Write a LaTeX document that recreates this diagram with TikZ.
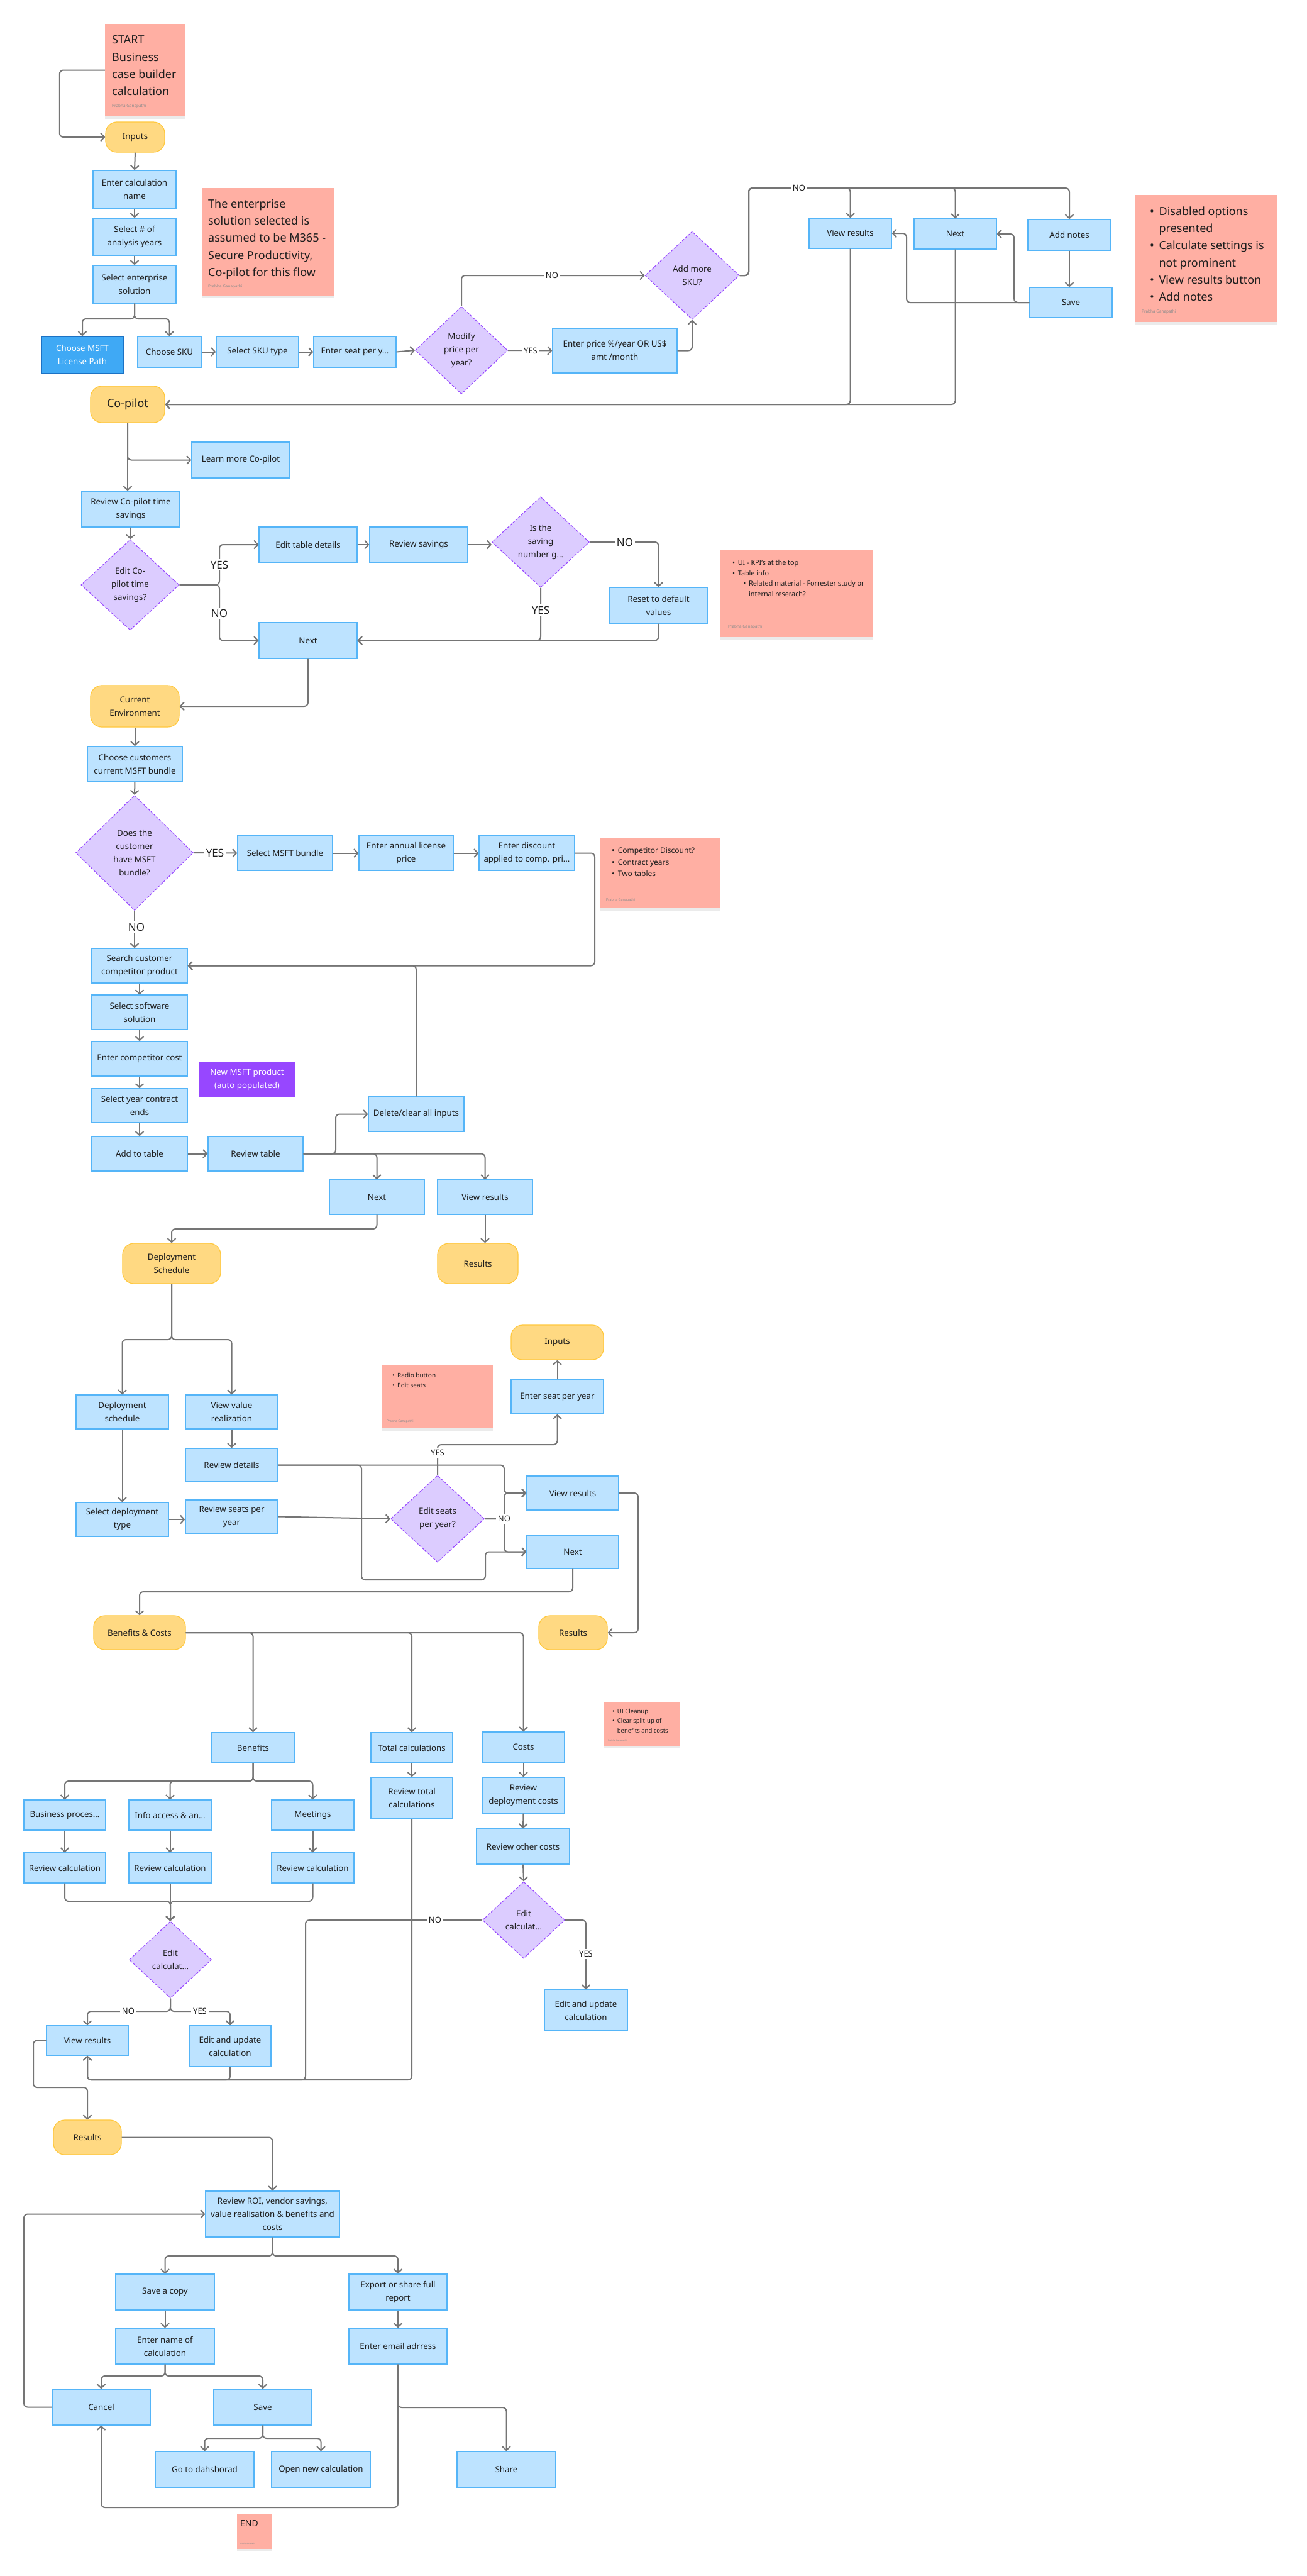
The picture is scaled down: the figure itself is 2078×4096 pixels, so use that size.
\documentclass[tikz,border=0pt]{standalone}
\usepackage{fontspec}
\setmainfont{Noto Sans}
\usetikzlibrary{shapes.geometric,arrows.meta,shadows}
\definecolor{bfill}{HTML}{BDE3FF}
\definecolor{bdraw}{HTML}{55B5F8}
\definecolor{yfill}{HTML}{FFD982}
\definecolor{ydraw}{HTML}{FFC83D}
\definecolor{pfill}{HTML}{DCCCFF}
\definecolor{pdraw}{HTML}{9747FF}
\definecolor{nfill}{HTML}{FFAFA3}
\definecolor{cgray}{HTML}{757575}
\definecolor{dfill}{HTML}{3FA9F5}
\definecolor{ddraw}{HTML}{1C72C4}
\definecolor{mviol}{HTML}{9747FF}
\definecolor{tdark}{HTML}{1E1E1E}
\newcommand{\nbul}{\makebox[0.8em][l]{•}}
\begin{document}
\begin{tikzpicture}[x=1pt,y=-1pt,
  wh/.style 2 args={minimum width=#1pt, minimum height=#2pt},
  boxtext/.style={font=\fontsize{13.3}{21}\selectfont, text=tdark, align=center},
  bbox/.style={boxtext, rectangle, draw=bdraw, fill=bfill, line width=1.2pt, inner sep=2pt},
  dbox/.style={boxtext, rectangle, draw=ddraw, fill=dfill, text=white, line width=1.2pt, inner sep=2pt},
  pbox/.style={boxtext, rectangle, draw=mviol, fill=mviol, text=white, line width=1.2pt, inner sep=2pt},
  term/.style={boxtext, rectangle, rounded corners=18pt, draw=ydraw, fill=yfill, line width=1.2pt, inner sep=2pt},
  dec/.style={boxtext, diamond, aspect=1, draw=pdraw, fill=pfill, line width=1.1pt, dash pattern=on 4pt off 2pt, inner sep=0pt},
  note/.style={rectangle, fill=nfill, draw=none, inner sep=0pt, drop shadow={shadow xshift=0pt, shadow yshift=-4pt, opacity=0.08, fill=black}},
  notetext/.style={anchor=north west, align=left, inner sep=0pt, text=tdark},
  author/.style={anchor=west, inner sep=0pt, text=black!45, font=\fontsize{#1}{#1}\selectfont},
  conn/.style={draw=cgray, line width=2pt, rounded corners=6pt, -{Straight Barb[length=6pt,width=13pt]}},
  lbl/.style={fill=white, inner sep=3pt, text=tdark, font=\fontsize{13}{15}\selectfont},
  lblL/.style={lbl, font=\fontsize{17}{20}\selectfont}
]
\path[fill=white] (0,0) rectangle (2078,4096);
\useasboundingbox (0,0) rectangle (2078,4096);

% ---------- notes ----------
\node[note, wh={128}{147}] (startn) at (231,111.5) {};
\node[notetext, font=\fontsize{18}{27.3}\selectfont] (startt) at (178,56.5) {START\\Business\\case builder\\calculation};
\node[author=6.4] (starta) at (178,169) {Prabha Ganapathi};

\node[note, wh={211}{171}] (entn) at (426.5,384.5) {};
\node[notetext, font=\fontsize{18}{27.3}\selectfont] (entt) at (331,316.5) {The enterprise\\solution selected is\\assumed to be M365 -\\Secure Productivity,\\Co-pilot for this flow};
\node[author=6.4] (enta) at (331,456) {Prabha Ganapathi};

\node[note, wh={226}{202}] (disn) at (1918,411) {};
\node[notetext, font=\fontsize{18}{27.3}\selectfont] (dist) at (1829,328.5) {\nbul Disabled options\\\hspace*{0.8em}presented\\\nbul Calculate settings is\\\hspace*{0.8em}not prominent\\\nbul View results button\\\nbul Add notes};
\node[author=6.4] (disa) at (1816,496) {Prabha Ganapathi};

\node[note, wh={242}{139}] (kpin) at (1267,943.5) {};
\node[notetext, font=\fontsize{10.8}{16.6}\selectfont] (kpit) at (1165,890) {\nbul UI - KPI's at the top\\\nbul Table info\\\hspace*{1.6em}\nbul Related material - Forrester study or\\\hspace*{2.4em}internal reserach?};
\node[author=6.4] (kpia) at (1158,997) {Prabha Ganapathi};

\node[note, wh={191}{111}] (compn) at (1050.5,1388.5) {};
\node[notetext, font=\fontsize{12}{18.4}\selectfont] (compt) at (973,1347.7) {\nbul Competitor Discount?\\\nbul Contract years\\\nbul Two tables};
\node[author=5.4] (compa) at (964,1431) {Prabha Ganapathi};

\node[note, wh={176}{101}] (radn) at (696,2220.5) {};
\node[notetext, font=\fontsize{10}{16}\selectfont] (radt) at (624,2182.4) {\nbul Radio button\\\nbul Edit seats};
\node[author=5] (rada) at (615,2260) {Prabha Ganapathi};

\node[note, wh={121}{70}] (clnn) at (1021.5,2741) {};
\node[notetext, font=\fontsize{9.5}{15.5}\selectfont] (clnt) at (974,2716.6) {\nbul UI Cleanup\\\nbul Clear split-up of\\\hspace*{0.8em}benefits and costs};
\node[author=3.5] (clna) at (967,2768) {Prabha Ganapathi};

\node[note, wh={56}{56}] (endn) at (405,4025) {};
\node[notetext, font=\fontsize{14}{16}\selectfont] (endt) at (382,4007) {END};
\node[author=2.8] (enda) at (382,4045) {Prabha Ganapathi};

% ---------- top ----------
\node[term, wh={94}{48}] (inputs1) at (215,218) {Inputs};
\node[bbox, wh={132}{60}] (calcname) at (214,301) {Enter calculation\\name};
\node[bbox, wh={132}{59}] (years) at (214,376.5) {Select \# of\\analysis years};
\node[bbox, wh={132}{60}] (entsol) at (214,452) {Select enterprise\\solution};
\node[dbox, wh={130}{59}] (msftpath) at (131,564.5) {Choose MSFT\\License Path};
\node[bbox, wh={101}{49}] (sku) at (269.5,559.5) {Choose SKU};
\node[bbox, wh={131}{49}] (skutype) at (409.5,559.5) {Select SKU type};
\node[bbox, wh={131}{49}] (seat) at (564.5,559.5) {Enter seat per y…};
\node[dec, wh={147}{139}] (modify) at (734,557) {Modify\\price per\\year?};
\node[bbox, wh={198}{71}] (price) at (978,557.5) {Enter price \%/year OR US\$\\amt /month};
\node[dec, wh={150}{140}] (addsku) at (1101,438) {Add more\\SKU?};
\node[bbox, wh={131}{48}] (viewres1) at (1352.5,371) {View results};
\node[bbox, wh={131}{48}] (next1) at (1519.5,372) {Next};
\node[bbox, wh={132}{49}] (addnotes) at (1701,373.5) {Add notes};
\node[bbox, wh={131}{48}] (save1) at (1703.5,481) {Save};
\node[term, wh={118}{58}, font=\fontsize{18}{22}\selectfont] (copilot) at (203,643) {Co-pilot};

% ---------- co-pilot ----------
\node[bbox, wh={156}{57}] (learnmore) at (383,731.5) {Learn more Co-pilot};
\node[bbox, wh={156}{57}] (reviewcp) at (208,809.5) {Review Co-pilot time\\savings};
\node[dec, wh={156}{144}] (editcp) at (207,930) {Edit Co-\\pilot time\\savings?};
\node[bbox, wh={156}{56}] (edittable) at (490,866) {Edit table details};
\node[bbox, wh={156}{56}] (revsav) at (666,866) {Review savings};
\node[dec, wh={155}{144}] (issaving) at (860,862) {Is the\\saving\\number g…};
\node[bbox, wh={156}{57}] (next2) at (490,1018.5) {Next};
\node[bbox, wh={155}{57}] (reset) at (1047.5,962.5) {Reset to default\\values};
\node[term, wh={141}{66}] (curenv) at (214.5,1123) {Current\\Environment};
\node[bbox, wh={151}{56}] (choosebundle) at (214.5,1215) {Choose customers\\current MSFT bundle};
\node[dec, wh={187}{183}] (hasbundle) at (214,1356) {Does the\\customer\\have MSFT\\bundle?};
\node[bbox, wh={151}{55}] (selbundle) at (453.5,1356.5) {Select MSFT bundle};
\node[bbox, wh={150}{55}] (annual) at (646,1356.5) {Enter annual license\\price};
\node[bbox, wh={152}{55}] (discount) at (838,1356.5) {Enter discount\\applied to comp. pri…};

% ---------- competitor ----------
\node[bbox, wh={152}{55}] (search) at (222,1535.5) {Search customer\\competitor product};
\node[bbox, wh={152}{55}] (selsoft) at (222,1609.5) {Select software\\solution};
\node[bbox, wh={152}{55}] (compcost) at (222,1683.5) {Enter competitor cost};
\node[pbox, wh={152}{55}] (newmsft) at (393,1716.5) {New MSFT product\\(auto populated)};
\node[bbox, wh={152}{54}] (yearends) at (222,1758) {Select year contract\\ends};
\node[bbox, wh={152}{55}] (addtable) at (222,1834.5) {Add to table};
\node[bbox, wh={151}{55}] (revtable) at (406.5,1834.5) {Review table};
\node[bbox, wh={152}{55}] (delete) at (662,1771.5) {Delete/clear all inputs};
\node[bbox, wh={151}{55}] (next3) at (599.5,1903.5) {Next};
\node[bbox, wh={151}{55}] (viewres2) at (771.5,1903.5) {View results};
\node[term, wh={156}{64}] (depsched) at (273,2009) {Deployment\\Schedule};
\node[term, wh={128}{64}] (results1) at (760,2009) {Results};

% ---------- deployment ----------
\node[bbox, wh={147}{54}] (depbox) at (194.5,2245) {Deployment\\schedule};
\node[bbox, wh={147}{54}] (viewvalue) at (368.5,2245) {View value\\realization};
\node[bbox, wh={147}{53}] (revdetails) at (368.5,2329.5) {Review details};
\node[bbox, wh={147}{54}] (seldeptype) at (194.5,2416) {Select deployment\\type};
\node[bbox, wh={147}{53}] (revseats) at (368.5,2411.5) {Review seats per\\year};
\node[dec, wh={149}{138}] (editseats) at (696,2415) {Edit seats\\per year?};
\node[bbox, wh={146}{54}] (viewres3) at (911,2374) {View results};
\node[bbox, wh={146}{53}] (next4) at (911,2467.5) {Next};
\node[bbox, wh={147}{54}] (enterseat) at (886.5,2221) {Enter seat per year};
\node[term, wh={147}{55}] (inputs2) at (886.5,2134.5) {Inputs};
\node[term, wh={109}{54}] (results2) at (911.5,2596) {Results};
\node[term, wh={146}{54}] (bencosts) at (222,2596) {Benefits \& Costs};

% ---------- benefits & costs ----------
\node[bbox, wh={131}{48}] (benefits) at (402.5,2779) {Benefits};
\node[bbox, wh={130}{48}] (totalcalc) at (655,2779) {Total calculations};
\node[bbox, wh={131}{48}] (costs) at (832.5,2778) {Costs};
\node[bbox, wh={130}{48}] (busproc) at (103,2886) {Business proces…};
\node[bbox, wh={131}{48}] (infoacc) at (270.5,2886) {Info access \& an…};
\node[bbox, wh={131}{48}] (meetings) at (497.5,2886) {Meetings};
\node[bbox, wh={130}{48}] (revcalc1) at (103,2970) {Review calculation};
\node[bbox, wh={131}{48}] (revcalc2) at (270.5,2970) {Review calculation};
\node[bbox, wh={131}{48}] (revcalc3) at (497.5,2970) {Review calculation};
\node[dec, wh={131}{122}] (editcalc1) at (271,3116) {Edit\\calculat…};
\node[bbox, wh={130}{47}] (viewres4) at (139,3244.5) {View results};
\node[bbox, wh={130}{65}] (editupd1) at (366,3253.5) {Edit and update\\calculation};
\node[bbox, wh={130}{66}] (revtotal) at (655,2859) {Review total\\calculations};
\node[bbox, wh={131}{57}] (revdepcosts) at (832.5,2854.5) {Review\\deployment costs};
\node[bbox, wh={148}{56}] (revother) at (832,2936) {Review other costs};
\node[dec, wh={131}{122}] (editcalc2) at (833,3053) {Edit\\calculat…};
\node[bbox, wh={132}{65}] (editupd2) at (932,3196.5) {Edit and update\\calculation};

% ---------- results ----------
\node[term, wh={108}{55}] (results3) at (139,3398.5) {Results};
\node[bbox, wh={213}{73}] (reviewroi) at (433.5,3520.5) {Review ROI, vendor savings,\\value realisation \& benefits and\\costs};
\node[bbox, wh={157}{57}] (saveacopy) at (262.5,3644.5) {Save a copy};
\node[bbox, wh={156}{57}] (export) at (633,3644.5) {Export or share full\\report};
\node[bbox, wh={157}{57}] (entername) at (262.5,3730.5) {Enter name of\\calculation};
\node[bbox, wh={156}{57}] (email) at (633,3730.5) {Enter email adrress};
\node[bbox, wh={156}{57}] (cancel) at (161,3827.5) {Cancel};
\node[bbox, wh={156}{57}] (save2) at (418,3827.5) {Save};
\node[bbox, wh={157}{57}] (dashboard) at (325.5,3926.5) {Go to dahsborad};
\node[bbox, wh={157}{57}] (opennew) at (510.5,3926.5) {Open new calculation};
\node[bbox, wh={157}{57}] (share) at (805.5,3926.5) {Share};

% ---------- connectors: top ----------
\draw[conn] (startn.west) -- ++(-72,0) |- (inputs1.west);
\draw[conn] (inputs1.south) -- (calcname.north);
\draw[conn] (calcname.south) -- (years.north);
\draw[conn] (years.south) -- (entsol.north);
\draw[conn] (entsol.south) -- (214,507) -| (msftpath.north);
\draw[conn] (entsol.south) -- (214,507) -| (sku.north);
\draw[conn] (sku.east) -- (skutype.west);
\draw[conn] (skutype.east) -- (seat.west);
\draw[conn] (seat.east) -- (modify.west);
\draw[conn] (modify.east) -- (price.west);
\draw[conn] (modify.north) |- (addsku.west);
\draw[conn] (price.east) -| (addsku.south);
\draw[conn] (addsku.east) -| (1191,299) -| (viewres1.north);
\draw[conn] (addsku.east) -| (1191,299) -| (next1.north);
\draw[conn] (addsku.east) -| (1191,299) -| (addnotes.north);
\draw[conn] (addnotes.south) -- (addnotes.south |- save1.north);
\draw[conn] (save1.west) -| (1613,372) -- (next1.east);
\draw[conn] (save1.west) -| (1442,371) -- (viewres1.east);
\draw[conn] (viewres1.south) |- (copilot.east);
\draw[conn] (next1.south) |- (copilot.east);

% ---------- connectors: co-pilot ----------
\draw[conn] (copilot.south) -- (copilot.south |- reviewcp.north);
\draw[conn] (copilot.south) |- (learnmore.west);
\draw[conn] (reviewcp.south) -- (editcp.north);
\draw[conn] (editcp.east) -- (349,930) |- (edittable.west);
\draw[conn] (editcp.east) -- (349,930) |- (next2.west);
\draw[conn] (edittable.east) -- (revsav.west);
\draw[conn] (revsav.east) -- (revsav.east -| issaving.west);
\draw[conn] (issaving.east) -| (reset.north);
\draw[conn] (issaving.south) |- (next2.east);
\draw[conn] (reset.south) |- (next2.east);
\draw[conn] (next2.south) |- (curenv.east);
\draw[conn] (curenv.south) -- (choosebundle.north);
\draw[conn] (choosebundle.south) -- (hasbundle.north);
\draw[conn] (hasbundle.east) -- (selbundle.west);
\draw[conn] (selbundle.east) -- (annual.west);
\draw[conn] (annual.east) -- (discount.west);
\draw[conn] (discount.east) -| (946,1535.5) -- (search.east);
\draw[conn] (delete.north) |- (search.east);
\draw[conn] (hasbundle.south) -- (hasbundle.south |- search.north);

% ---------- connectors: competitor ----------
\draw[conn] (search.south) -- (selsoft.north);
\draw[conn] (selsoft.south) -- (compcost.north);
\draw[conn] (compcost.south) -- (yearends.north);
\draw[conn] (yearends.south) -- (addtable.north);
\draw[conn] (addtable.east) -- (revtable.west);
\draw[conn] (revtable.east) -- (534,1834.5) |- (delete.west);
\draw[conn] (revtable.east) -| (next3.north);
\draw[conn] (revtable.east) -| (viewres2.north);
\draw[conn] (next3.south) -- (599.5,1954) -| (depsched.north);
\draw[conn] (viewres2.south) -- (viewres2.south |- results1.north);

% ---------- connectors: deployment ----------
\draw[conn] (depsched.south) -- (273,2130) -| (depbox.north);
\draw[conn] (depsched.south) -- (273,2130) -| (viewvalue.north);
\draw[conn] (depbox.south) -- (seldeptype.north);
\draw[conn] (viewvalue.south) -- (revdetails.north);
\draw[conn] (seldeptype.east) -- (seldeptype.east -| revseats.west);
\draw[conn] (revseats.east) -- (editseats.west);
\draw[conn] (editseats.north) -- (696,2297) -| (enterseat.south);
\draw[conn] (enterseat.north) -- (inputs2.south);
\draw[conn] (revdetails.east) -| (802,2374) -- (viewres3.west);
\draw[conn] (revdetails.east) -| (575,2512) -| (772,2467.5) -- (next4.west);
\draw[conn] (editseats.east) -| (802,2374) -- (viewres3.west);
\draw[conn] (editseats.east) -| (802,2467.5) -- (next4.west);
\draw[conn] (viewres3.east) -| (1015,2596) -- (results2.east);
\draw[conn] (next4.south) -- (911,2531) -| (bencosts.north);

% ---------- connectors: benefits & costs ----------
\draw[conn] (bencosts.east) -| (benefits.north);
\draw[conn] (bencosts.east) -| (totalcalc.north);
\draw[conn] (bencosts.east) -| (costs.north);
\draw[conn] (benefits.south) -- (402.5,2832) -| (busproc.north);
\draw[conn] (benefits.south) -- (402.5,2832) -| (infoacc.north);
\draw[conn] (benefits.south) -- (402.5,2832) -| (meetings.north);
\draw[conn] (busproc.south) -- (revcalc1.north);
\draw[conn] (infoacc.south) -- (revcalc2.north);
\draw[conn] (meetings.south) -- (revcalc3.north);
\draw[conn] (revcalc1.south) -- (103,3023) -| (editcalc1.north);
\draw[conn] (revcalc3.south) -- (497.5,3023) -| (editcalc1.north);
\draw[conn] (revcalc2.south) -- (revcalc2.south |- editcalc1.north);
\draw[conn] (editcalc1.south) -- (271,3198) -| (viewres4.north);
\draw[conn] (editcalc1.south) -- (271,3198) -| (editupd1.north);
\draw[conn] (totalcalc.south) -- (revtotal.north);
\draw[conn] (revtotal.south) -- (655,3307) -| (viewres4.south);
\draw[conn] (editupd1.south) -- (366,3307) -| (viewres4.south);
\draw[conn] (editcalc2.west) -| (486,3307) -| (viewres4.south);
\draw[conn] (costs.south) -- (revdepcosts.north);
\draw[conn] (revdepcosts.south) -- (revother.north);
\draw[conn] (revother.south) -- (editcalc2.north);
\draw[conn] (editcalc2.east) -| (editupd2.north);
\draw[conn] (viewres4.west) -| (53,3319) -| (results3.north);

% ---------- connectors: results ----------
\draw[conn] (results3.east) -| (reviewroi.north);
\draw[conn] (reviewroi.south) -- (433.5,3587) -| (saveacopy.north);
\draw[conn] (reviewroi.south) -- (433.5,3587) -| (export.north);
\draw[conn] (saveacopy.south) -- (entername.north);
\draw[conn] (export.south) -- (email.north);
\draw[conn] (entername.south) -- (262.5,3778) -| (cancel.north);
\draw[conn] (entername.south) -- (262.5,3778) -| (save2.north);
\draw[conn] (cancel.west) -| (38,3520.5) -- (reviewroi.west);
\draw[conn] (save2.south) -- (418,3877) -| (dashboard.north);
\draw[conn] (save2.south) -- (418,3877) -| (opennew.north);
\draw[conn] (email.south) -- (633,3987) -| (cancel.south);
\draw[conn] (email.south) -- (633,3828) -| (share.north);

% ---------- labels ----------
\node[lbl] (l1) at (844,558) {YES};
\node[lbl] (l2) at (878,438) {NO};
\node[lbl] (l3) at (1271,299) {NO};
\node[lblL] (l4) at (349,898) {YES};
\node[lblL] (l5) at (349,975) {NO};
\node[lblL] (l6) at (994,862) {NO};
\node[lblL] (l7) at (860,970) {YES};
\node[lblL] (l8) at (342,1356) {YES};
\node[lblL] (l9) at (217,1474) {NO};
\node[lbl] (l10) at (696,2310) {YES};
\node[lbl] (l11) at (802,2415) {NO};
\node[lbl] (l12) at (204,3198) {NO};
\node[lbl] (l13) at (318,3198) {YES};
\node[lbl] (l14) at (692,3053) {NO};
\node[lbl] (l15) at (932,3107) {YES};
\end{tikzpicture}
\end{document}
